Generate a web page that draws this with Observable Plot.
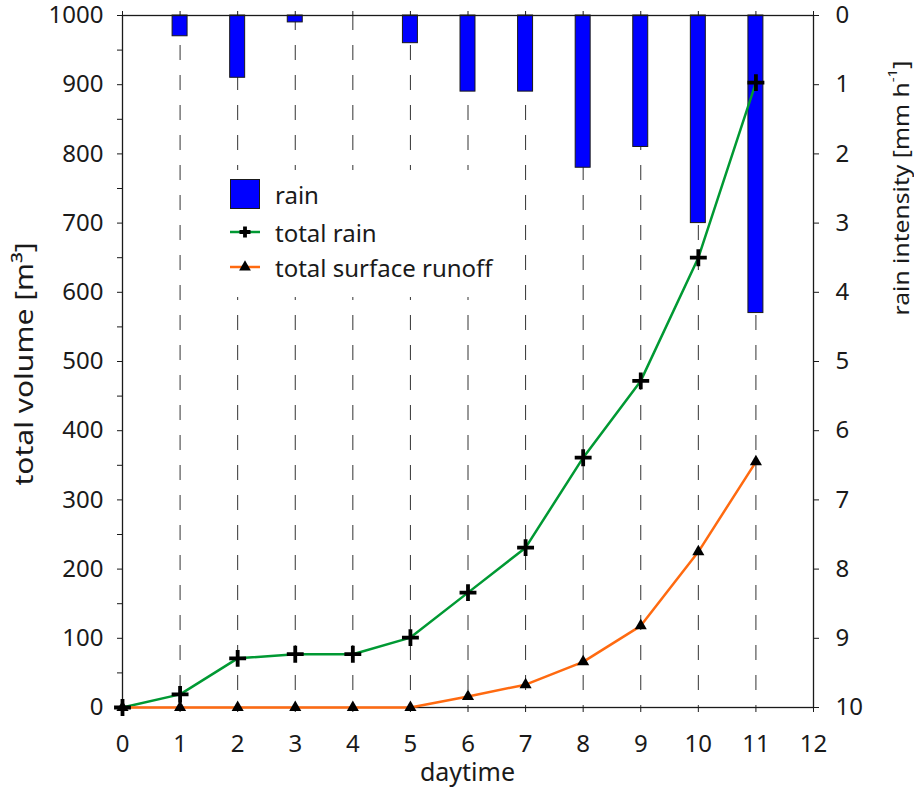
<!DOCTYPE html>
<html><head><meta charset="utf-8">
<script src="https://cdn.jsdelivr.net/npm/d3@7"></script>
<script src="https://cdn.jsdelivr.net/npm/@observablehq/plot@0.6"></script>
<style>
body{margin:0;background:#fff;}
#chart{position:relative;width:914px;height:787px;}
</style></head><body><div id="chart"></div>
<script>
// ---- data ----
const daytime = [0, 1, 2, 3, 4, 5, 6, 7, 8, 9, 10, 11];
const totalRain = [0, 19, 71, 77, 77, 101, 166, 231, 361, 472, 650, 903];
const totalRunoff = [0, 0, 0, 0, 0, 0, 16, 33, 66, 118, 225, 355];
const rainHours = [1, 2, 3, 4, 5, 6, 7, 8, 9, 10, 11];
const rainIntensity = [0.3, 0.9, 0.1, 0, 0.4, 1.1, 1.1, 2.2, 1.9, 3.0, 4.3];
const xTicks = [0, 1, 2, 3, 4, 5, 6, 7, 8, 9, 10, 11, 12];
const gridX = [1, 2, 3, 4, 5, 6, 7, 8, 9, 10, 11];
const volTicksMinor = d3.range(0, 1001, 50);
const rainTicks = [0, 1, 2, 3, 4, 5, 6, 7, 8, 9, 10];

const rainRows = daytime.map((t, i) => ({t, v: totalRain[i]}));
const runoffRows = daytime.map((t, i) => ({t, v: totalRunoff[i]}));
const barRows = rainHours.map((t, i) => ({t, r: rainIntensity[i]}));

// rain intensity (0 top .. 10 bottom) shares the volume scale: r -> 1000 - 100 r
const rToY = r => 1000 - 100 * r;

const FONT = "'Noto Sans', sans-serif";
const ink = "#1a1a1a";
const green = "#009933";
const orange = "#ff6a10";

const svg = Plot.plot({
  width: 914, height: 787,
  marginLeft: 122, marginRight: 101, marginTop: 15, marginBottom: 80,
  style: {fontFamily: FONT, fontSize: "24px", color: ink, background: "#fff", overflow: "visible"},
  x: {domain: [0, 12]},
  y: {domain: [0, 1000]},
  marks: [
    Plot.ruleX(gridX, {stroke: "#333", strokeWidth: 1, strokeDasharray: "15,15"}),
    Plot.rect(barRows, {x1: d => d.t - 0.13, x2: d => d.t + 0.13, y1: 1000, y2: d => rToY(d.r), fill: "#0000ff", stroke: ink, strokeWidth: 1}),
    Plot.frame({stroke: ink, strokeWidth: 1.3}),
    Plot.axisY({anchor: "left", ticks: volTicksMinor, tickFormat: d => d % 100 === 0 ? String(d) : "", tickSize: 5, tickPadding: 14, label: null, stroke: ink}),
    Plot.axisY({anchor: "right", ticks: rainTicks.map(rToY), tickFormat: d => String(Math.round((1000 - d) / 100)), tickSize: 5, tickPadding: 17, label: null, stroke: ink}),
    Plot.axisX({anchor: "bottom", ticks: xTicks, tickSize: 5, tickPadding: 22, label: null, stroke: ink}),
    Plot.axisX({anchor: "top", ticks: xTicks, tickSize: 5, tickFormat: () => "", label: null, stroke: ink}),
    Plot.line(rainRows, {x: "t", y: "v", stroke: green, strokeWidth: 2.5}),
    Plot.line(runoffRows, {x: "t", y: "v", stroke: orange, strokeWidth: 2.5}),
    Plot.dot(runoffRows, {x: "t", y: "v", symbol: "triangle", r: 4.5, fill: "#000"}),
    Plot.dot(rainRows, {x: "t", y: "v", symbol: "plus", r: 5.5, stroke: "#000", strokeWidth: 3.8, fill: "none"})
  ]
});

const s = d3.select(svg);
// axis titles
s.append("text").attr("transform", "translate(23,364) rotate(-90)")
  .attr("text-anchor", "middle").attr("dominant-baseline", "central")
  .attr("textLength", 243).attr("lengthAdjust", "spacingAndGlyphs")
  .style("font-size", "25px").style("fill", ink).text("total volume [m³]");
const rt = s.append("text").attr("transform", "translate(901,188) rotate(-90)")
  .attr("text-anchor", "middle").attr("dominant-baseline", "central")
  .attr("textLength", 255).attr("lengthAdjust", "spacingAndGlyphs")
  .style("font-size", "21px").style("fill", ink);
rt.append("tspan").text("rain intensity [mm h");
rt.append("tspan").attr("baseline-shift", "super").style("font-size", "13px").text("-1");
rt.append("tspan").attr("baseline-shift", "0").text("]");
s.append("text").attr("x", 467.5).attr("y", 781).attr("text-anchor", "middle")
  .style("font-size", "25px").style("fill", ink).text("daytime");

// legend
const lg = s.append("g");
lg.append("rect").attr("x", 222).attr("y", 170).attr("width", 293).attr("height", 127).style("fill", "#fff").style("stroke", "none");
lg.append("rect").attr("x", 230.5).attr("y", 179.5).attr("width", 29).attr("height", 29).style("fill", "#0000ff").style("stroke", ink);
lg.append("line").attr("x1", 230).attr("x2", 260).attr("y1", 232).attr("y2", 232).style("stroke", green).style("stroke-width", 2.5);
lg.append("path").attr("transform", "translate(245,232)").attr("d", "M-5.5,0H5.5M0,-5.5V5.5").style("stroke", "#000").style("stroke-width", 3.8).style("fill", "none");
lg.append("line").attr("x1", 230).attr("x2", 260).attr("y1", 267).attr("y2", 267).style("stroke", orange).style("stroke-width", 2.5);
lg.append("path").attr("transform", "translate(245,267)").attr("d", d3.symbol(d3.symbolTriangle, 60)()).style("fill", "#000");
[["rain", 194], ["total rain", 232], ["total surface runoff", 267]].forEach(([t, y]) => {
  lg.append("text").attr("x", 275).attr("y", y).attr("dominant-baseline", "central")
    .attr("text-anchor", "start")
    .style("font-size", "24px").style("fill", ink).text(t);
});

document.getElementById("chart").appendChild(svg);
</script>
</body></html>
